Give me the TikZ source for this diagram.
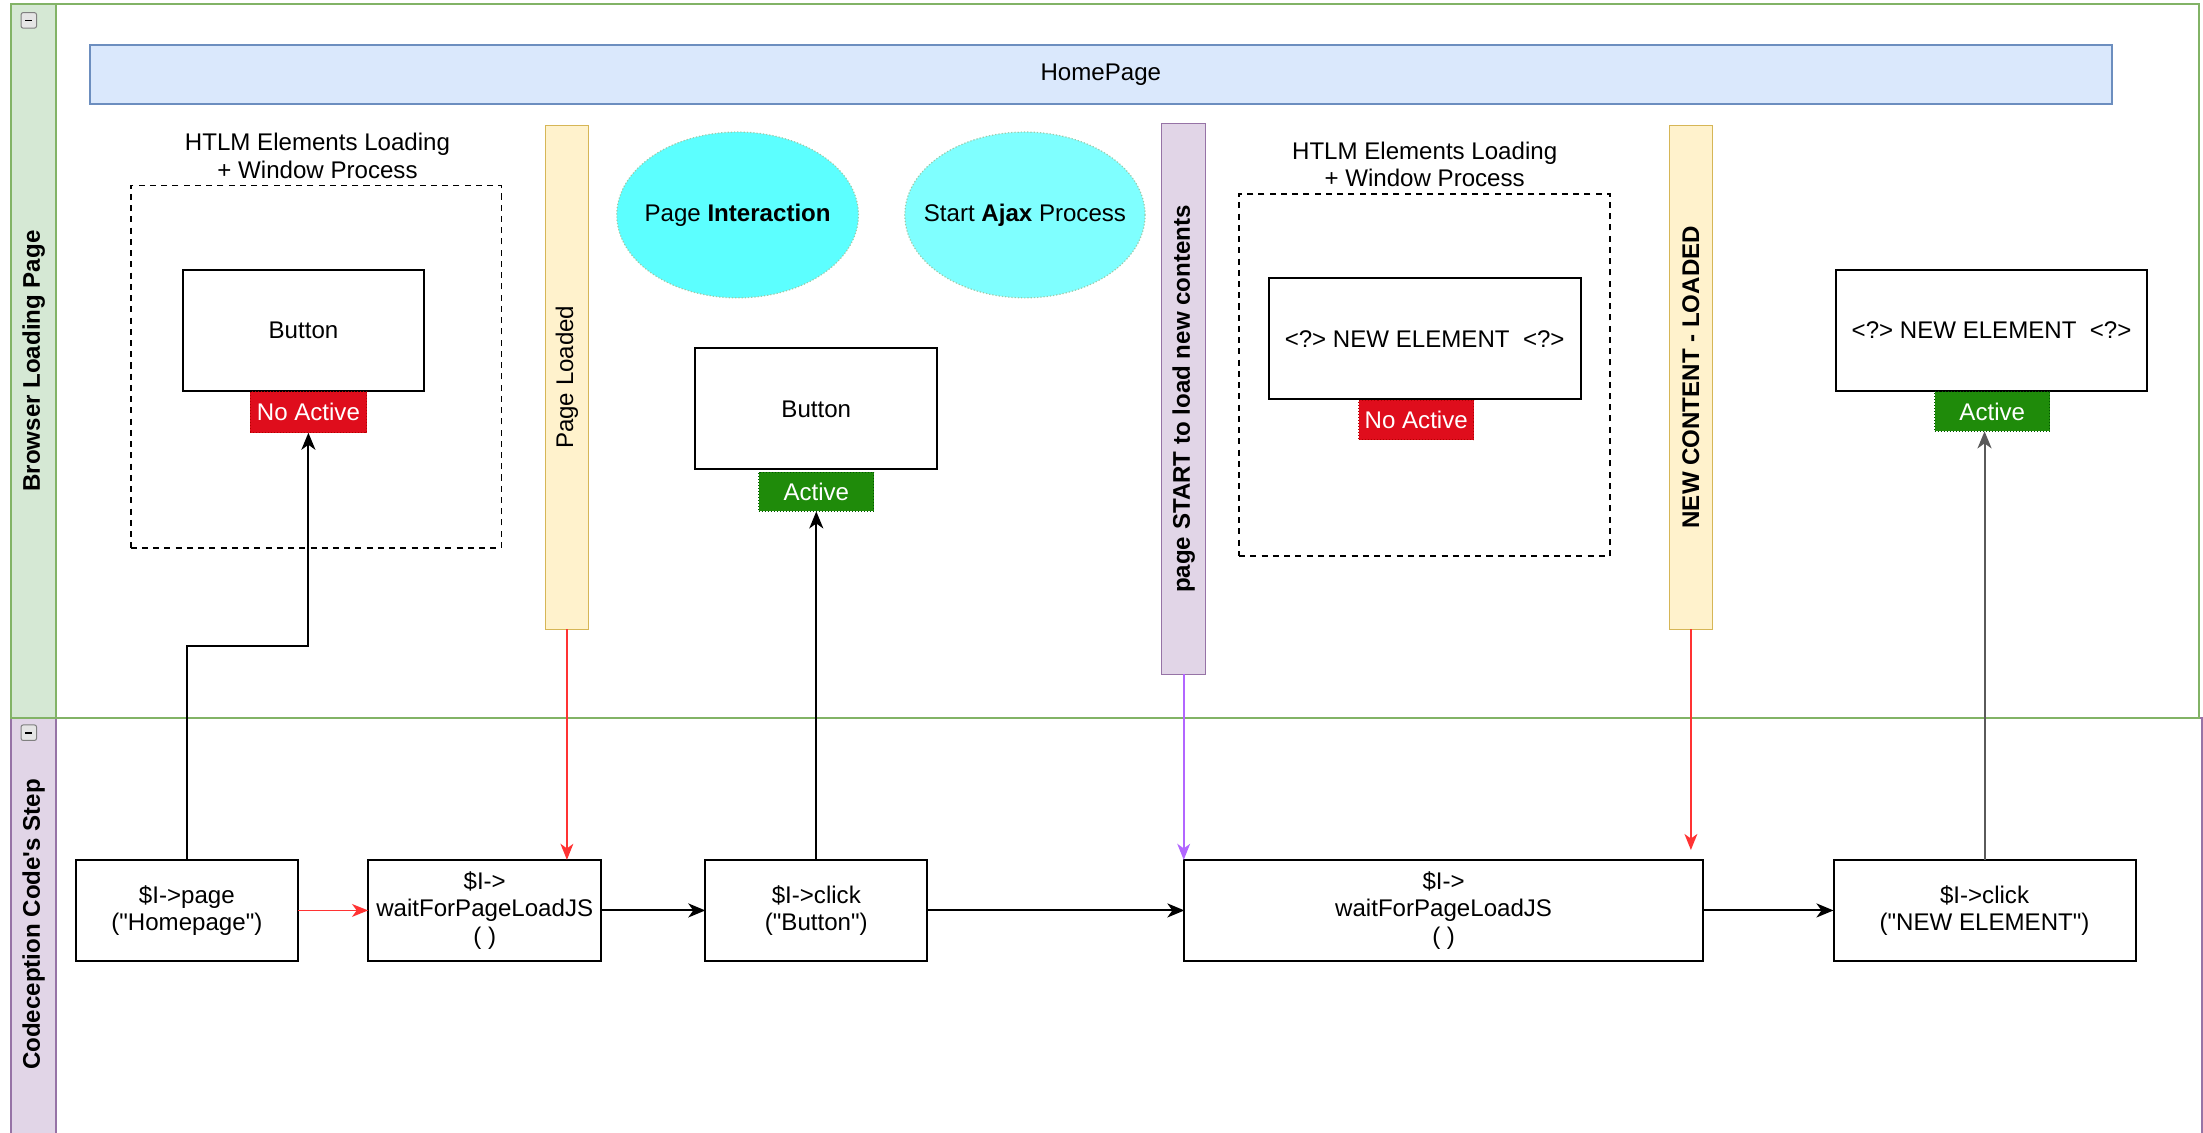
\documentclass[tikz,border=0pt]{standalone}
\usepackage{fontspec}
\newfontfamily\lsans{Liberation Sans}
\usetikzlibrary{arrows.meta,shapes.geometric}

\definecolor{lanegreen}{HTML}{82B366}
\definecolor{lanegreenfill}{HTML}{D5E8D4}
\definecolor{lanepurple}{HTML}{9673A6}
\definecolor{lanepurplefill}{HTML}{E1D5E7}
\definecolor{homefill}{HTML}{DAE8FC}
\definecolor{homeline}{HTML}{6C8EBF}
\definecolor{notefill}{HTML}{FFF2CC}
\definecolor{noteline}{HTML}{D6B656}
\definecolor{cyanA}{HTML}{5CFFFF}
\definecolor{cyanB}{HTML}{7FFFFF}
\definecolor{bubbleline}{HTML}{9CC9A8}
\definecolor{tagred}{HTML}{DF0D1C}
\definecolor{tagredline}{HTML}{B20000}
\definecolor{taggreen}{HTML}{1F8B0A}
\definecolor{taggreenline}{HTML}{005700}
\definecolor{flowred}{HTML}{FF3333}
\definecolor{flowpurple}{HTML}{B266FF}
\definecolor{flowgray}{HTML}{5A5A5A}

\begin{document}
\begin{tikzpicture}[x=0.7pt,y=-0.7pt,
  every node/.style={font=\lsans\fontsize{12}{13.6}\selectfont, inner sep=0pt, outer sep=0pt},
  sz/.style 2 args={minimum width=#1*0.7pt, minimum height=#2*0.7pt},
  elem/.style={draw=black, line width=1pt, fill=white},
  codebox/.style={draw=black, line width=1pt, fill=white, align=center},
  zone/.style={draw=black, line width=0.9pt, dash pattern=on 3pt off 2.6pt},
  redtag/.style={fill=tagred, draw=tagredline, densely dotted, line width=0.5pt, text=white},
  greentag/.style={fill=taggreen, draw=taggreenline, densely dotted, line width=0.5pt, text=white},
  yellowbar/.style={fill=notefill, draw=noteline, line width=0.5pt},
  purplebar/.style={fill=lanepurplefill, draw=lanepurple, line width=0.5pt},
  bubble/.style={ellipse, draw=bubbleline, densely dotted, line width=0.6pt},
  arr/.style={-{Stealth[length=8.5pt,width=7pt,inset=2.5pt]}, line width=1pt},
  thinarr/.style={-{Stealth[length=8pt,width=6.4pt,inset=2.3pt]}, line width=0.8pt},
  minusicon/.style={draw=gray, fill=gray!20, rounded corners=1pt, line width=0.5pt},
]
\useasboundingbox (0,0) rectangle (1568,806);
\clip (0,0) rectangle (1568,806);
\fill[white] (0,0) rectangle (1568,806);

% ---- swimlane: Codeception Code's Step
\draw[lanepurple, line width=0.9pt, fill=white] (8,511) rectangle (1567,830);
\draw[lanepurple, line width=0.9pt, fill=lanepurplefill] (8,511) rectangle (40,830);
\draw[minusicon] (15,516) rectangle (26,527);
\draw[line width=0.8pt] (18,521.5) -- (23,521.5);
\node[rotate=90, font=\lsans\bfseries\fontsize{12}{13.6}\selectfont] (lanecode) at (24,658) {Codeception Code's Step};

% ---- swimlane: Browser Loading Page
\draw[lanegreen, line width=0.9pt, fill=white] (8,3) rectangle (1565,511);
\draw[lanegreen, line width=0.9pt, fill=lanegreenfill] (8,3) rectangle (40,511);
\draw[minusicon] (15,9) rectangle (26,20);
\draw[line width=0.8pt] (18,14.5) -- (23,14.5);
\node[rotate=90, font=\lsans\bfseries\fontsize{12}{13.6}\selectfont] (lanebrowser) at (24,257) {Browser Loading Page};

% ---- page header
\node[sz={1439}{42}, fill=homefill, draw=homeline, line width=0.8pt] (home) at (783.5,53) {HomePage};

% ---- first loading phase
\node[sz={264}{258}, zone] (zoneA) at (225,261) {};
\node[align=center] (zoneAlabel) at (226,111) {HTLM Elements Loading\\+ Window Process};
\node[sz={172}{86}, elem] (btnA) at (216,235) {Button};
\node[sz={83}{29}, redtag] (offA) at (219.5,293.5) {No Active};

\node[sz={31}{359}, yellowbar] (loaded) at (403.5,268.5) {};
\node[rotate=90] (loadedtext) at (loaded.center) {Page Loaded};

% ---- interaction phase
\node[sz={172}{118}, bubble, fill=cyanA, label={center:Page \textbf{Interaction}}] (interact) at (525,153) {};
\node[sz={171}{118}, bubble, fill=cyanB, label={center:Start \textbf{Ajax} Process}] (ajax) at (729.5,153) {};
\node[sz={172}{86}, elem] (btnB) at (581,291) {Button};
\node[sz={82}{28}, greentag] (onB) at (581,350) {Active};

\node[sz={31}{392}, purplebar] (ajaxstart) at (842.5,284) {};
\node[rotate=90, font=\lsans\bfseries\fontsize{12}{13.6}\selectfont] (ajaxstarttext) at (ajaxstart.center) {page START to load new contents};

% ---- second loading phase
\node[sz={264}{258}, zone] (zoneB) at (1014,267) {};
\node[align=center] (zoneBlabel) at (1014,117) {HTLM Elements Loading\\+ Window Process};
\node[sz={222}{86}, elem] (newA) at (1014,241) {<?> NEW ELEMENT\ \ <?>};
\node[sz={82}{28}, redtag] (offC) at (1008,299) {No Active};

\node[sz={31}{359}, yellowbar] (newloaded) at (1203.5,268.5) {};
\node[rotate=90, font=\lsans\bfseries\fontsize{12}{13.6}\selectfont] (newloadedtext) at (newloaded.center) {NEW CONTENT - LOADED};

\node[sz={221}{86}, elem] (newB) at (1417.5,235) {<?> NEW ELEMENT\ \ <?>};
\node[sz={82}{28}, greentag] (onD) at (1418,293) {Active};

% ---- test steps
\node[sz={158}{72}, codebox] (s1) at (133,648) {\$I->page\\("Homepage")};
\node[sz={166}{72}, codebox] (s2) at (345,648) {\$I->\\waitForPageLoadJS\\( )};
\node[sz={158}{72}, codebox] (s3) at (581,648) {\$I->click\\("Button")};
\node[sz={369}{72}, codebox] (s4) at (1027.5,648) {\$I->\\waitForPageLoadJS\\( )};
\node[sz={215}{72}, codebox] (s5) at (1412.5,648) {\$I->click\\("NEW ELEMENT")};

\coordinate (bend) at (133,460);
\coordinate (newloadedend) at (1203.5,605);

% ---- step sequence
\draw[thinarr, flowred] (s1) -- (s2);
\draw[arr] (s2) -- (s3);
\draw[arr] (s3) -- (s4);
\draw[arr] (s4) -- (s5);

% ---- steps acting on the page
\draw[arr] (s1.north) -- (bend) -| (offA.south);
\draw[arr] (s3.north) -- (onB.south);
\draw[arr, flowgray] (s5.north) -- (s5.north |- onD.south);

% ---- page events releasing the waits
\draw[thinarr, flowred] (loaded.south) -- (loaded.south |- s2.north);
\draw[thinarr, flowpurple] (ajaxstart.south) -- (ajaxstart.south |- s4.north);
\draw[thinarr, flowred] (newloaded.south) -- (newloadedend);
\end{tikzpicture}
\end{document}
